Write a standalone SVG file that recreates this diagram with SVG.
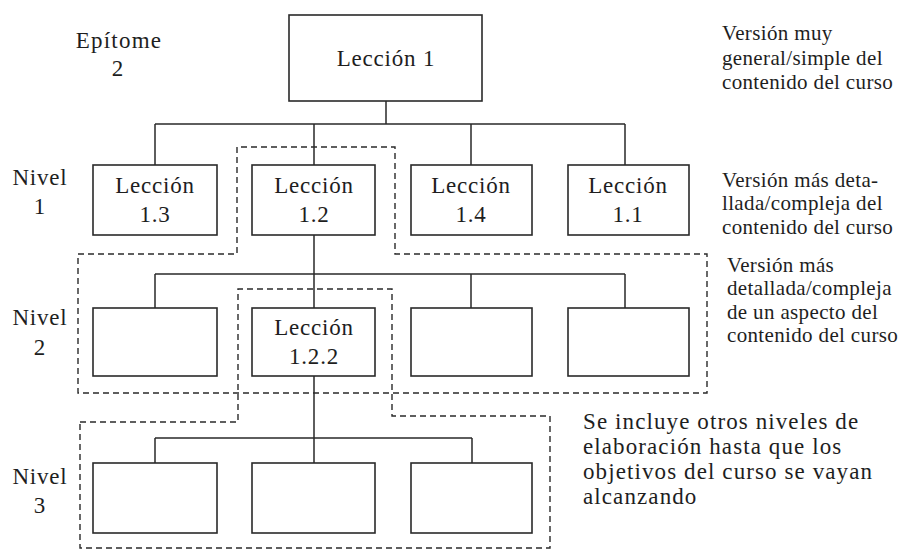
<svg xmlns="http://www.w3.org/2000/svg" width="900" height="555" viewBox="0 0 900 555">
  <style>
    .box { fill: #ffffff; stroke: #2a2a2a; stroke-width: 1.6; }
    .wire { fill: none; stroke: #2a2a2a; stroke-width: 1.5; }
    .zone { fill: none; stroke: #2a2a2a; stroke-width: 1.4; stroke-dasharray: 6 4; }
    .t { font-family: 'Liberation Serif', 'DejaVu Serif', serif; fill: #1e1e1e; }
    .lbl { font-size: 23px; letter-spacing: 0.8px; text-anchor: middle; }
    .side { font-size: 21px; letter-spacing: 0.35px; }
    .note { font-size: 23px; letter-spacing: 1.1px; }
  </style>
  <rect width="900" height="555" fill="#ffffff"/>

  <!-- dashed outlines of the elaborated branches -->
  <g id="zones">
    <path class="zone" d="M78,254 H237 V147 H395 V254 H707 V393 H78 Z"/>
    <path class="zone" d="M80,422 H238 V289 H392 V416 H550 V548 H80 Z"/>
  </g>

  <!-- tree connectors -->
  <g id="connectors">
    <path class="wire" d="M386,101 V124 M155,124 H625 M155,124 V165 M314,124 V165 M471,124 V165 M625,124 V165"/>
    <path class="wire" d="M314,235 V308 M155,274 H625 M155,274 V308 M471,274 V308 M625,274 V308"/>
    <path class="wire" d="M314,376 V463 M155,438 H472 M155,438 V463 M472,438 V463"/>
  </g>

  <!-- level labels -->
  <g id="level-labels" class="t" font-family="Liberation Serif, serif">
    <text class="lbl" x="119" y="48" style="letter-spacing:1.2px">Epítome</text>
    <text class="lbl" x="118" y="76">2</text>
    <text class="lbl" x="40" y="185">Nivel</text>
    <text class="lbl" x="40" y="214">1</text>
    <text class="lbl" x="40" y="325">Nivel</text>
    <text class="lbl" x="40" y="355">2</text>
    <text class="lbl" x="40" y="484">Nivel</text>
    <text class="lbl" x="40" y="513">3</text>
  </g>

  <!-- root lesson -->
  <g id="leccion-1" class="t" font-family="Liberation Serif, serif">
    <rect class="box" x="289" y="15" width="193" height="86"/>
    <text class="lbl" x="386" y="66">Lección 1</text>
  </g>

  <!-- level 1 -->
  <g id="leccion-1-3" class="t" font-family="Liberation Serif, serif">
    <rect class="box" x="93" y="165" width="124" height="70"/>
    <text class="lbl" x="155" y="193">Lección</text>
    <text class="lbl" x="155" y="222">1.3</text>
  </g>
  <g id="leccion-1-2" class="t" font-family="Liberation Serif, serif">
    <rect class="box" x="252" y="165" width="123" height="70"/>
    <text class="lbl" x="314" y="193">Lección</text>
    <text class="lbl" x="314" y="222">1.2</text>
  </g>
  <g id="leccion-1-4" class="t" font-family="Liberation Serif, serif">
    <rect class="box" x="411" y="165" width="121" height="70"/>
    <text class="lbl" x="471" y="193">Lección</text>
    <text class="lbl" x="471" y="222">1.4</text>
  </g>
  <g id="leccion-1-1" class="t" font-family="Liberation Serif, serif">
    <rect class="box" x="568" y="165" width="121" height="70"/>
    <text class="lbl" x="628" y="193">Lección</text>
    <text class="lbl" x="628" y="222">1.1</text>
  </g>

  <!-- level 2 -->
  <g id="n2-a"><rect class="box" x="93" y="308" width="124" height="68"/></g>
  <g id="leccion-1-2-2" class="t" font-family="Liberation Serif, serif">
    <rect class="box" x="252" y="308" width="123" height="68"/>
    <text class="lbl" x="314" y="335">Lección</text>
    <text class="lbl" x="314" y="364">1.2.2</text>
  </g>
  <g id="n2-c"><rect class="box" x="411" y="308" width="121" height="68"/></g>
  <g id="n2-d"><rect class="box" x="568" y="308" width="121" height="68"/></g>

  <!-- level 3 -->
  <g id="n3-a"><rect class="box" x="93" y="463" width="124" height="70"/></g>
  <g id="n3-b"><rect class="box" x="252" y="463" width="123" height="70"/></g>
  <g id="n3-c"><rect class="box" x="411" y="463" width="121" height="70"/></g>

  <!-- side notes -->
  <g id="notes" class="t" font-family="Liberation Serif, serif">
    <text class="side" x="722" y="40">Versión muy</text>
    <text class="side" x="722" y="65">general/simple del</text>
    <text class="side" x="722" y="89">contenido del curso</text>

    <text class="side" x="722" y="187">Versión más deta-</text>
    <text class="side" x="722" y="210">llada/compleja del</text>
    <text class="side" x="722" y="234">contenido del curso</text>

    <text class="side" x="727" y="272">Versión más</text>
    <text class="side" x="727" y="295">detallada/compleja</text>
    <text class="side" x="727" y="319">de un aspecto del</text>
    <text class="side" x="727" y="342">contenido del curso</text>

    <text class="note" x="583" y="429">Se incluye otros niveles de</text>
    <text class="note" x="583" y="454">elaboración hasta que los</text>
    <text class="note" x="583" y="479">objetivos del curso se vayan</text>
    <text class="note" x="583" y="504">alcanzando</text>
  </g>
</svg>
